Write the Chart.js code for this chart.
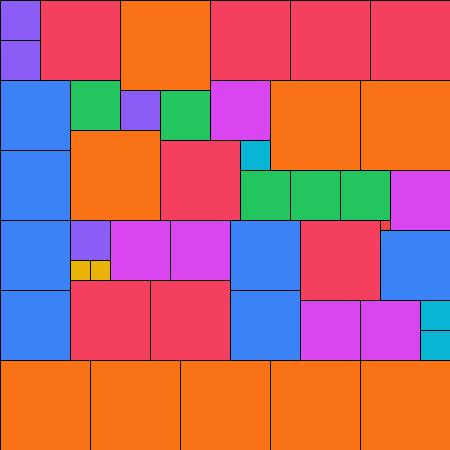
<!DOCTYPE html>
<html>
<head>
<meta charset="utf-8">
<script src="https://cdn.jsdelivr.net/npm/chart.js@4/dist/chart.umd.min.js"></script>
<style>
html, body { margin: 0; padding: 0; background: #ffffff; }
#wrap { width: 450px; height: 450px; }
</style>
</head>
<body>
<div id="wrap"><canvas id="miGrafico"></canvas></div>
<script>
// square sizes (n squares of side n, n = 1..9)
const lados = [1, 2, 3, 4, 5, 6, 7, 8, 9];
const colores = ['#ef4444', '#eab308', '#06b6d4', '#8b5cf6', '#22c55e', '#d946ef', '#3b82f6', '#f43f5e', '#f97316'];

// order in which the squares fill the 45x45 board (row by row, first free cell)
const orden = [
  4, 8, 9, 8, 8, 8,
  4,
  7, 5, 6, 9, 9,
  4, 5,
  9,
  8, 3,
  7,
  5, 5, 5, 6,
  7, 4, 6, 6, 7, 8, 1,
  7,
  2, 2,
  8, 8,
  7, 7,
  6, 6, 3,
  3,
  9, 9, 9, 9, 9
];

const LADO_TOTAL = 45;

// place each square on the first empty cell
function colocar(){
  let ocupado = [];
  for (let i = 0; i < LADO_TOTAL; i++) ocupado.push(new Array(LADO_TOTAL).fill(false));
  let puestos = [];
  let fila = 0, col = 0;
  orden.forEach(function(s){
    while (ocupado[fila][col]) {
      col++;
      if (col >= LADO_TOTAL) { col = 0; fila++; }
    }
    for (let r = fila; r < fila + s; r++) {
      for (let c = col; c < col + s; c++) ocupado[r][c] = true;
    }
    puestos.push({ x: col + s / 2, y: fila + s / 2, s: s });
  });
  return puestos;
}

const puestos = colocar();

let datasets = lados.map(function(n, i){
  return {
    label: n + '×' + n,
    data: puestos.filter(p => p.s === n),
    backgroundColor: colores[i],
    borderColor: '#000000',
    borderWidth: 1,
    pointStyle: 'rect',
    clip: false,
    pointRadius: function(ctx){
      let chart = ctx.chart;
      let x = chart.scales.x;
      if (!x) return 0;
      let lado = Math.abs(x.getPixelForValue(n) - x.getPixelForValue(0));
      return lado / Math.SQRT2;
    }
  };
});

let ctx = document.getElementById("miGrafico").getContext("2d");

let grafico = new Chart(ctx, {
  type: 'scatter',
  data: { datasets: datasets },
  options: {
    responsive: true,
    maintainAspectRatio: false,
    animation: false,
    events: [],
    layout: { padding: 0 },
    plugins: {
      legend: { display: false },
      tooltip: { enabled: false }
    },
    scales: {
      x: { type: 'linear', display: false, bounds: 'data', min: -0.05, max: LADO_TOTAL - 0.05 },
      y: { type: 'linear', display: false, bounds: 'data', reverse: true, min: -0.05, max: LADO_TOTAL - 0.05 }
    }
  }
});
</script>
</body>
</html>
